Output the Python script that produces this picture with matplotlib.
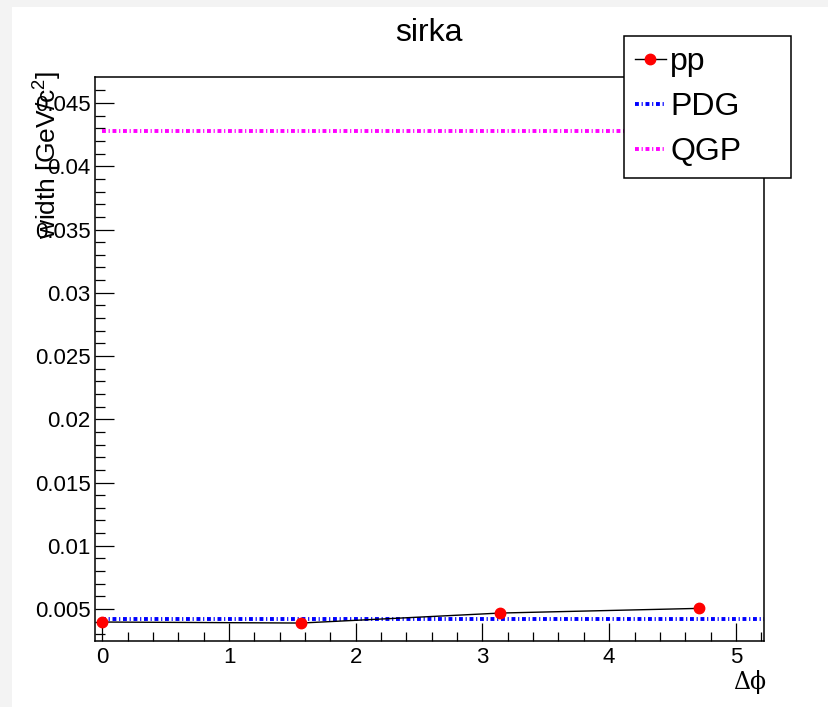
import matplotlib
matplotlib.use("Agg")
import matplotlib.pyplot as plt
from matplotlib.patches import Rectangle
from matplotlib.lines import Line2D
import numpy as np

# ---- data ----
pp_x = [0.0, 1.5708, 3.1416, 4.7124]
pp_y = [0.00397, 0.00389, 0.00468, 0.00505]
pdg_width = 0.00421
qgp_width = 0.04278
line_x_start = 0.0
title = "sirka"
xlabel = "\u0394\u03d5"
ylabel = "width [GeV/c$^{2}$]"
xlim = (-0.058, 5.222)
ylim = (0.00247, 0.04706)

plt.rcParams['font.family'] = ['Liberation Sans', 'DejaVu Sans']
plt.rcParams['mathtext.fontset'] = 'custom'
plt.rcParams['mathtext.rm'] = 'Liberation Sans'
plt.rcParams['mathtext.it'] = 'Liberation Sans'

fig = plt.figure(figsize=(8.29, 7.07), dpi=100)
fig.patch.set_facecolor('#f3f3f3')
fig.patches.append(Rectangle((12/829, 0), 1 - 12/829, 1 - 7/707,
                             transform=fig.transFigure, facecolor='white',
                             edgecolor='none', zorder=-10))

ax = fig.add_axes([95/829, 1 - 641/707, (764 - 95)/829, (641 - 77)/707])
ax.set_xlim(*xlim)
ax.set_ylim(*ylim)

dash = (0, (1.0, 0.7, 0.3, 0.7))
ax.hlines(pdg_width, line_x_start, xlim[1], colors='#0000ff', linewidth=2.8,
          linestyles=[dash], zorder=2)
ax.hlines(qgp_width, line_x_start, xlim[1], colors='#ff00ff', linewidth=2.8,
          linestyles=[dash], zorder=2)
ax.plot(pp_x, pp_y, color='black', linewidth=1.0, marker='o', markersize=7.5,
        markerfacecolor='#ff0000', markeredgecolor='#ff0000', zorder=3,
        clip_on=False)

for s in ax.spines.values():
    s.set_linewidth(1.1)

ax.set_xticks([0, 1, 2, 3, 4, 5])
ax.set_xticks(np.arange(0, 5.21, 0.2), minor=True)
yt = [0.005, 0.01, 0.015, 0.02, 0.025, 0.03, 0.035, 0.04, 0.045]
ax.set_yticks(yt)
ax.set_yticklabels(['0.005', '0.01', '0.015', '0.02', '0.025', '0.03', '0.035', '0.04', '0.045'])
ax.set_yticks(np.arange(0.003, 0.0470, 0.001), minor=True)
ax.tick_params(axis='both', which='both', direction='in', top=False, right=False,
               width=0.9, colors='black')
ax.tick_params(axis='x', which='major', length=13, pad=4, labelsize=16)
ax.tick_params(axis='x', which='minor', length=6.5)
ax.tick_params(axis='y', which='major', length=14, pad=3, labelsize=16)
ax.tick_params(axis='y', which='minor', length=7)

fig.text(429/829, 1 - 33/707, title, ha='center', va='center', fontsize=23)
fig.text(766/829, 1 - 682/707, xlabel, ha='right', va='center', fontsize=17,
         family=['DejaVu Serif'])
fig.text(48/829, 1 - 71/707, ylabel, ha='center', va='top', rotation=90,
         fontsize=19)

handles = [
    Line2D([], [], color='black', linewidth=1.0, marker='o', markersize=7.5,
           markerfacecolor='#ff0000', markeredgecolor='#ff0000'),
    Line2D([], [], color='#0000ff', linewidth=2.8, linestyle=dash),
    Line2D([], [], color='#ff00ff', linewidth=2.8, linestyle=dash),
]
leg = fig.legend(handles, ['pp', 'PDG', 'QGP'], loc='upper left',
                 bbox_to_anchor=(624/829, 1 - 36/707, (791 - 624)/829, 0),
                 bbox_transform=fig.transFigure, mode='expand',
                 borderaxespad=0, fontsize=23, fancybox=False, framealpha=1,
                 edgecolor='black', handlelength=0.95, handletextpad=0.15,
                 labelspacing=0.47, borderpad=0.35)
leg.get_frame().set_linewidth(1.1)

fig.savefig('out.png', dpi=100, facecolor=fig.get_facecolor())
